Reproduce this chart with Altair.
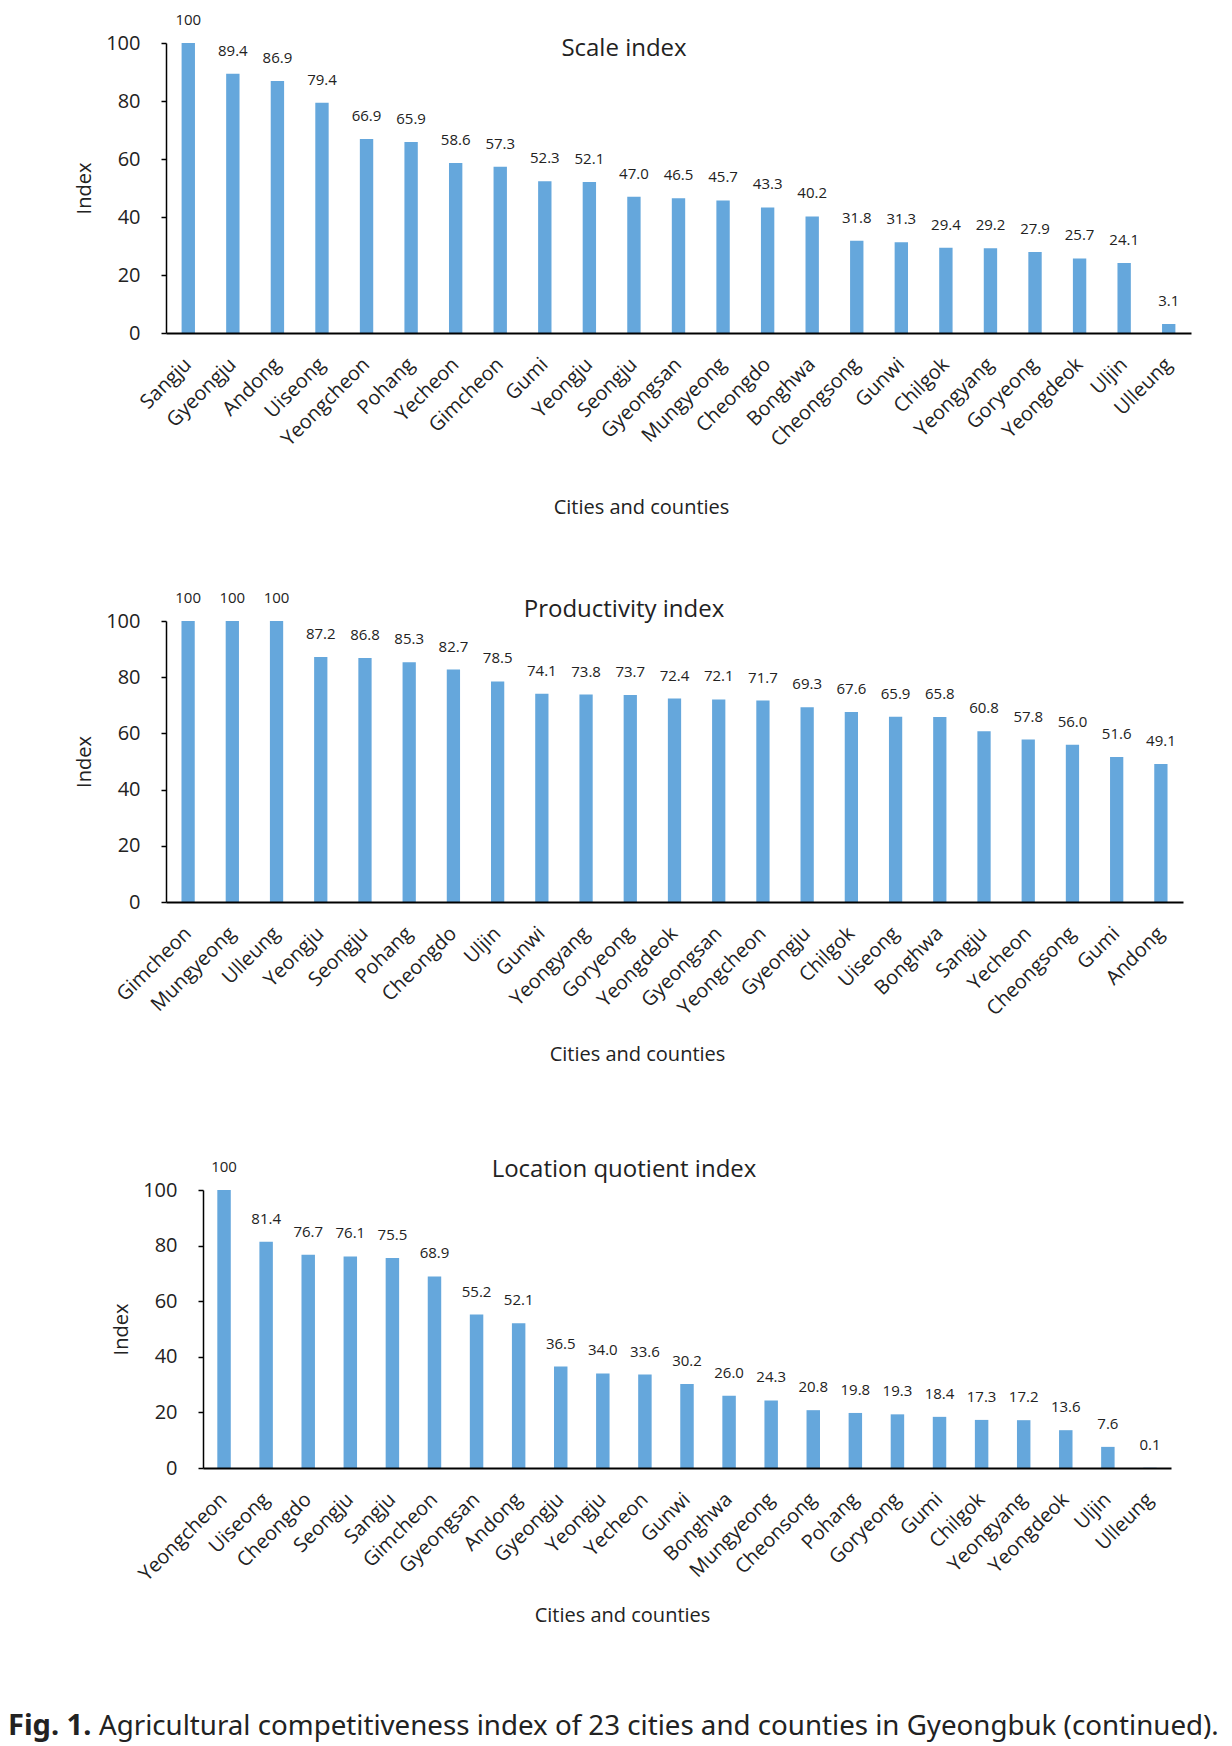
import altair as alt
import pandas as pd

FONT = "Open Sans"
CAP_FONT = "Noto Sans"
BAR = "#65A7DC"
INK = "#222222"

scale_cities = ["Sangju", "Gyeongju", "Andong", "Uiseong", "Yeongcheon", "Pohang", "Yecheon",
                "Gimcheon", "Gumi", "Yeongju", "Seongju", "Gyeongsan", "Mungyeong", "Cheongdo",
                "Bonghwa", "Cheongsong", "Gunwi", "Chilgok", "Yeongyang", "Goryeong", "Yeongdeok",
                "Uljin", "Ulleung"]
scale_values = [100, 89.4, 86.9, 79.4, 66.9, 65.9, 58.6, 57.3, 52.3, 52.1, 47.0, 46.5, 45.7,
                43.3, 40.2, 31.8, 31.3, 29.4, 29.2, 27.9, 25.7, 24.1, 3.1]

prod_cities = ["Gimcheon", "Mungyeong", "Ulleung", "Yeongju", "Seongju", "Pohang", "Cheongdo",
               "Uljin", "Gunwi", "Yeongyang", "Goryeong", "Yeongdeok", "Gyeongsan", "Yeongcheon",
               "Gyeongju", "Chilgok", "Uiseong", "Bonghwa", "Sangju", "Yecheon", "Cheongsong",
               "Gumi", "Andong"]
prod_values = [100, 100, 100, 87.2, 86.8, 85.3, 82.7, 78.5, 74.1, 73.8, 73.7, 72.4, 72.1, 71.7,
               69.3, 67.6, 65.9, 65.8, 60.8, 57.8, 56.0, 51.6, 49.1]

lq_cities = ["Yeongcheon", "Uiseong", "Cheongdo", "Seongju", "Sangju", "Gimcheon", "Gyeongsan",
             "Andong", "Gyeongju", "Yeongju", "Yecheon", "Gunwi", "Bonghwa", "Mungyeong",
             "Cheonsong", "Pohang", "Goryeong", "Gumi", "Chilgok", "Yeongyang", "Yeongdeok",
             "Uljin", "Ulleung"]
lq_values = [100, 81.4, 76.7, 76.1, 75.5, 68.9, 55.2, 52.1, 36.5, 34.0, 33.6, 30.2, 26.0, 24.3,
             20.8, 19.8, 19.3, 18.4, 17.3, 17.2, 13.6, 7.6, 0.1]

titles = ["Scale index", "Productivity index", "Location quotient index"]
x_title = "Cities and counties"
y_title = "Index"
y_ticks = [0, 20, 40, 60, 80, 100]
caption_bold = ["Fig. 1."]
caption_rest = ["Agricultural competitiveness index of 23 cities and counties in Gyeongbuk (continued)."]


def fmt(v):
    return "100" if v == 100 else f"{v:.1f}"


def panel(cities, values, title, width, height, title_x, title_y, xt_x, xt_y, pad_inner):
    df = pd.DataFrame({"city": cities, "value": values, "label": [fmt(v) for v in values]})
    base = alt.Chart(df)
    x = alt.X(
        "city:N", sort=cities,
        scale=alt.Scale(paddingInner=pad_inner, paddingOuter=pad_inner / 2),
        axis=alt.Axis(
            title=x_title, labelAngle=-45, labelAlign="right", labelBaseline="middle",
            labelPadding=28, ticks=False, domainColor="black", domainWidth=2,
            labelFont=FONT, labelFontSize=20, labelColor=INK, labelOverlap=False,
            titleFont=FONT, titleFontSize=20, titleFontWeight="normal", titleColor=INK,
            titleX=xt_x, titleY=xt_y, titleBaseline="middle", titleAlign="center",
            grid=False, zindex=1,
        ),
    )
    y = alt.Y(
        "value:Q", scale=alt.Scale(domain=[0, 100], nice=False),
        axis=alt.Axis(
            title=y_title, values=y_ticks, tickSize=5, tickColor="black", tickWidth=1.5,
            domainColor="black", domainWidth=1.5, labelPadding=21,
            labelFont=FONT, labelFontSize=20, labelColor=INK,
            titleFont=FONT, titleFontSize=20, titleFontWeight="normal", titleColor=INK,
            titleX=-82, titleBaseline="middle", grid=False, zindex=1,
        ),
    )
    bars = base.mark_bar(color=BAR).encode(x=x, y=y)
    labels = base.mark_text(baseline="middle", dy=-23, font=FONT, fontSize=15, color=INK).encode(
        x=x, y=y, text="label:N")
    ttl = alt.Chart(pd.DataFrame({"t": [title]})).mark_text(
        font=FONT, fontSize=24, color=INK, baseline="middle", align="center").encode(
        x=alt.value(title_x), y=alt.value(title_y), text="t:N")
    return [bars, labels, ttl], width, height


l1, w1, h1 = panel(scale_cities, scale_values, titles[0], 1025, 290, 458, 6, 475, 174, 0.7)
c1 = alt.layer(*l1).properties(width=w1, height=h1)

l2, w2, h2 = panel(prod_cities, prod_values, titles[1], 1017, 281, 458, -11, 471, 152, 0.7)
c2 = alt.layer(*l2).properties(width=w2, height=h2)

l3, w3, h3 = panel(lq_cities, lq_values, titles[2], 968, 278, 421, -20, 419, 147, 0.68)
cap1 = alt.Chart(pd.DataFrame({"t": caption_bold})).mark_text(
    font=CAP_FONT, fontSize=29, fontWeight="bold", align="left", baseline="alphabetic",
    color=INK).encode(x=alt.value(-195), y=alt.value(545), text="t:N")
cap2 = alt.Chart(pd.DataFrame({"t": caption_rest})).mark_text(
    font=CAP_FONT, fontSize=27.7, align="left", baseline="alphabetic",
    color=INK).encode(x=alt.value(-104), y=alt.value(545), text="t:N")
c3 = alt.layer(*l3, cap1, cap2).properties(width=w3, height=h3)

spacer = alt.Chart(pd.DataFrame({"s": [0]})).mark_point(opacity=0).encode(
    x=alt.value(0), y=alt.value(0)).properties(width=37, height=1)

row3 = alt.hconcat(spacer, c3, spacing=0, bounds="flush")

chart = alt.vconcat(c1, c2, row3, spacing=288, bounds="flush").configure_view(
    strokeWidth=0).properties(padding={"left": 0, "top": 5, "right": 0, "bottom": 12})

chart.save("out.html", embed_options={"renderer": "svg", "actions": False})
